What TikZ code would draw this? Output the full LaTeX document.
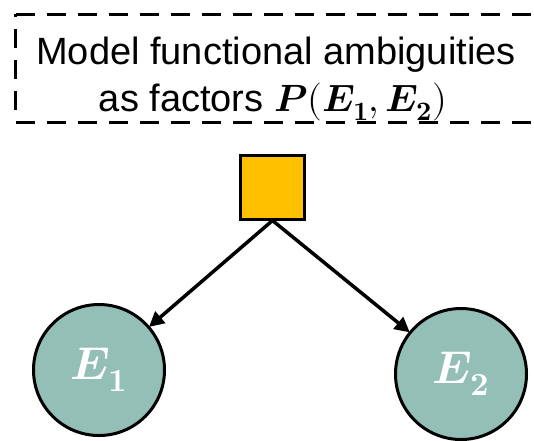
\documentclass[tikz,border=0pt]{standalone}
\usepackage{amsmath}
\usepackage{fontspec}
\usepackage{unicode-math}
\setmainfont{Liberation Sans}
\setmathfont{Latin Modern Math}
\usetikzlibrary{arrows.meta}
\definecolor{factorfill}{HTML}{FFC000}
\definecolor{varfill}{HTML}{93BFB7}
\tikzset{
  notebox/.style={draw=black, line width=3pt, dash pattern=on 19pt off 12pt},
  noteline/.style={anchor=base, inner sep=0pt, font=\fontsize{38}{44}\selectfont},
  factorbox/.style={draw=black, fill=factorfill, line width=3pt, minimum size=64pt, inner sep=0pt},
  varnode/.style={circle, draw=black, fill=varfill, line width=3pt, minimum size=131pt, inner sep=0pt,
    text=white, font=\fontsize{46}{52}\selectfont},
  edgearrow/.style={line width=3.5pt, -{Triangle[length=15pt,width=15pt]}, shorten >=-1pt},
}
\begin{document}
\begin{tikzpicture}[x=1pt,y=-1pt]
  \useasboundingbox (0,0) rectangle (534,440);
  \clip (0,0) rectangle (534,440);
  % annotation box
  \draw[notebox] (15.5,14) -- (560,14) -- (560,122) -- (15.5,122) -- cycle;
  \node[noteline] (note1) at (276,64) {Model functional ambiguities};
  \node[noteline] (note2) at (273,111) {as factors $\symbfit{P}\symbf{(}\symbfit{E}_{\symbf{1}}\symbf{,}\symbfit{E}_{\symbf{2}}\symbf{)}$};
  % factor and variables
  \node[factorbox] (f) at (272.5,187) {};
  \node[varnode] (e1) at (99,370) {$\symbfit{E}_{\symbf{1}}$};
  \node[varnode] (e2) at (461,374) {$\symbfit{E}_{\symbf{2}}$};
  \draw[edgearrow] (f.south) -- (e1);
  \draw[edgearrow] (f.south) -- (e2);
\end{tikzpicture}
\end{document}
